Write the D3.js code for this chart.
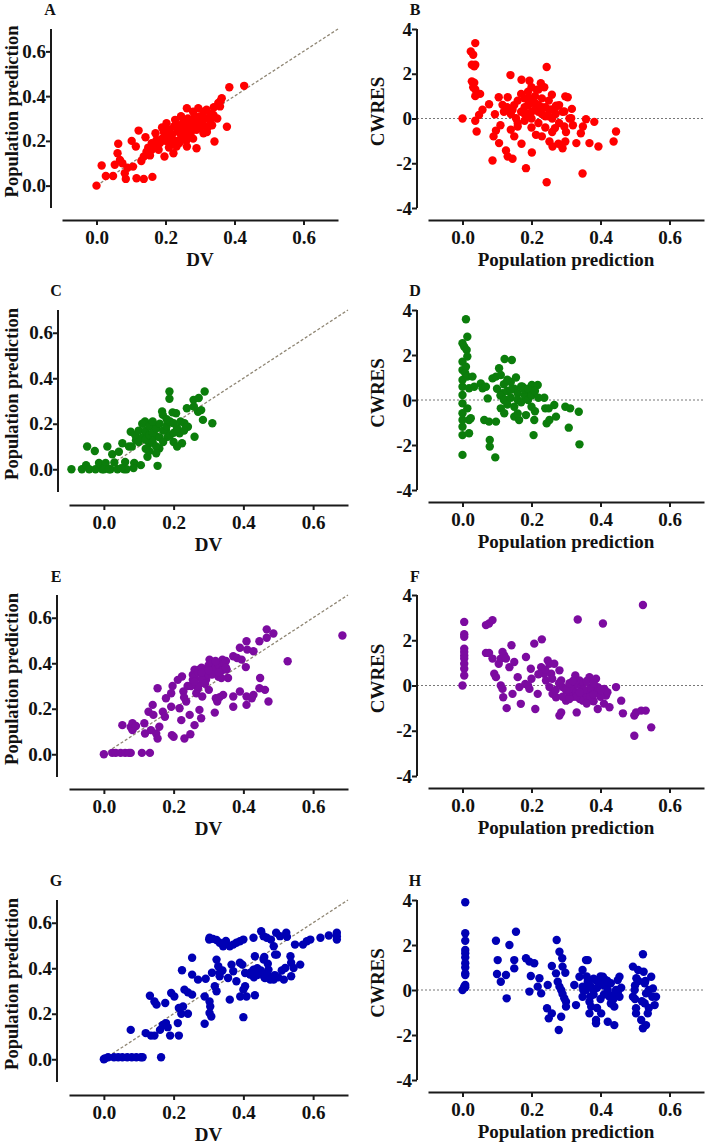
<!DOCTYPE html>
<html><head><meta charset="utf-8">
<script src="https://cdn.jsdelivr.net/npm/d3@7"></script>
<style>body{margin:0;background:#fff}svg{display:block}</style>
</head><body><svg id="c" width="705" height="1144"></svg>
<script>
// ---------- DATA ----------
const panelLabels = ["A","B","C","D","E","F","G","H"];
const xTicks = [0, 0.2, 0.4, 0.6];
const predTicks = [0, 0.2, 0.4, 0.6];
const cwresTicks = [-4, -2, 0, 2, 4];
const predDomain = [-0.1, 0.7];
const cwresDomain = [-4, 4];
const titleDV = "DV";
const titlePred = "Population prediction";
const titleCwres = "CWRES";

// [DV, PRED]
const dataA = [[0,0],[0.015,0.09],[0.027,0.043],[0.048,0.043],[0.063,0.187],[0.061,0.145],[0.053,0.093],[0.068,0.115],[0.082,0.055],[0.085,0.03],[0.075,0.1],[0.09,0.08],[0.102,0.2],[0.106,0.085],[0.114,0.175],[0.122,0.246],[0.116,0.033],[0.137,0.03],[0.162,0.039],[0.142,0.216],[0.137,0.13],[0.145,0.152],[0.13,0.11],[0.15,0.17],[0.155,0.135],[0.16,0.19],[0.171,0.234],[0.169,0.175],[0.174,0.204],[0.184,0.19],[0.197,0.13],[0.19,0.21],[0.195,0.24],[0.2,0.2],[0.203,0.279],[0.208,0.219],[0.21,0.25],[0.215,0.185],[0.22,0.23],[0.223,0.145],[0.225,0.265],[0.228,0.294],[0.23,0.2],[0.232,0.175],[0.235,0.245],[0.24,0.27],[0.242,0.234],[0.245,0.21],[0.25,0.26],[0.252,0.29],[0.255,0.225],[0.26,0.25],[0.262,0.346],[0.262,0.175],[0.265,0.3],[0.27,0.27],[0.272,0.23],[0.276,0.279],[0.28,0.25],[0.285,0.31],[0.29,0.167],[0.29,0.28],[0.295,0.346],[0.3,0.309],[0.3,0.26],[0.305,0.29],[0.31,0.234],[0.315,0.3],[0.319,0.339],[0.324,0.264],[0.33,0.29],[0.339,0.316],[0.342,0.197],[0.35,0.3],[0.353,0.369],[0.358,0.354],[0.363,0.391],[0.378,0.263],[0.385,0.44],[0.428,0.446],[0.28,0.33],[0.245,0.31],[0.21,0.17],[0.18,0.16],[0.19,0.26],[0.26,0.2],[0.32,0.24],[0.335,0.27],[0.36,0.38],[0.2,0.23],[0.22,0.2],[0.23,0.27],[0.25,0.24],[0.27,0.29],[0.29,0.25],[0.31,0.27],[0.33,0.32],[0.24,0.19],[0.18,0.2],[0.16,0.16],[0.28,0.21],[0.34,0.35],[0.31,0.33],[0.26,0.28]];
// [PRED, CWRES]
const dataB = [[0,0],[0.024,3.0],[0.037,3.37],[0.031,2.85],[0.027,2.4],[0.037,2.4],[0.034,2.33],[0.027,1.66],[0.034,1.6],[0.031,1.4],[0.037,1.3],[0.051,1.1],[0.037,1.0],[0.037,-0.1],[0.041,-0.58],[0.048,0.16],[0.058,0.39],[0.077,0.64],[0.094,0.19],[0.105,0.95],[0.09,-0.8],[0.097,-0.54],[0.106,-1.1],[0.087,-1.88],[0.126,-1.43],[0.131,-1.7],[0.145,-1.8],[0.139,1.94],[0.116,0.61],[0.131,0.95],[0.145,0.39],[0.155,0.01],[0.15,-0.8],[0.16,-0.36],[0.171,1.73],[0.171,-1.13],[0.184,-2.22],[0.194,1.69],[0.201,-1.52],[0.244,2.3],[0.244,-2.85],[0.259,1.06],[0.348,-2.46],[0.382,-0.15],[0.394,-1.25],[0.368,-1.1],[0.438,-1.03],[0.445,-0.58],[0.358,-0.03],[0.349,-0.36],[0.343,-0.66],[0.33,-1.1],[0.315,0.01],[0.317,0.43],[0.305,0.95],[0.298,0.99],[0.295,0.31],[0.295,-0.36],[0.298,-1.03],[0.29,-1.33],[0.278,-1.13],[0.261,-1.25],[0.252,-1.03],[0.271,0.57],[0.268,-0.43],[0.227,1.58],[0.237,1.4],[0.215,1.28],[0.194,0.91],[0.213,-0.73],[0.13,0.5],[0.14,0.2],[0.15,0.6],[0.16,0.8],[0.17,0.3],[0.17,1.1],[0.18,0.5],[0.18,-0.1],[0.19,0.2],[0.19,1.2],[0.2,0.7],[0.2,0.0],[0.21,0.4],[0.21,1.0],[0.22,-0.2],[0.22,0.6],[0.23,0.2],[0.23,0.9],[0.24,0.5],[0.24,-0.4],[0.25,0.1],[0.25,0.8],[0.26,0.4],[0.26,-0.6],[0.27,0.2],[0.28,0.6],[0.28,-0.2],[0.29,0.3],[0.3,-0.6],[0.31,0.0],[0.32,-0.3],[0.2,-0.4],[0.16,-0.2],[0.14,-0.5],[0.12,0.3],[0.11,-0.3],[0.22,1.3],[0.23,-0.8],[0.2,1.4],[0.18,0.9],[0.19,0.6],[0.21,0.7],[0.22,0.3],[0.24,0.1],[0.25,0.4],[0.27,0.5],[0.2,0.3],[0.18,0.2],[0.23,0.5],[0.26,0.0]];
const dataC = [[-0.093,0],[-0.063,0],[-0.051,0.018],[-0.048,0.1],[-0.026,0.08],[-0.042,0],[-0.024,0],[-0.014,0.028],[-0.005,0],[0.005,0.028],[0.01,0.1],[0.019,0],[0.024,0.066],[0.039,0],[0.043,0.077],[0.053,0.114],[0.061,0.032],[0.058,0],[0.077,0.165],[0.072,0.1],[0.087,0.028],[0.092,0.128],[0.106,0.018],[0.118,0.21],[0.12,0.16],[0.13,0.114],[0.125,0.055],[0.14,0.19],[0.154,0.015],[0.149,0.146],[0.159,0.091],[0.167,0.254],[0.169,0.239],[0.188,0.342],[0.188,0.31],[0.197,0.25],[0.207,0.246],[0.2,0.202],[0.178,0.173],[0.183,0.143],[0.217,0.158],[0.224,0.114],[0.231,0.202],[0.238,0.268],[0.241,0.187],[0.257,0.305],[0.26,0.143],[0.272,0.313],[0.279,0.26],[0.289,0.342],[0.27,0.253],[0.284,0.217],[0.311,0.202],[0.258,0.276],[0.09,0.15],[0.1,0.12],[0.1,0.17],[0.11,0.14],[0.11,0.2],[0.12,0.13],[0.12,0.17],[0.13,0.15],[0.13,0.19],[0.14,0.12],[0.14,0.16],[0.15,0.18],[0.15,0.1],[0.16,0.14],[0.16,0.2],[0.17,0.17],[0.17,0.12],[0.18,0.19],[0.19,0.15],[0.19,0.21],[0.2,0.16],[0.2,0.12],[0.21,0.18],[0.22,0.21],[0.21,0.1],[0.13,0.08],[0.15,0.07],[0.12,0.09],[0.08,0.1],[0.18,0.22],[0.14,0.21],[0.23,0.17],[0.03,0.03],[0.0,0.0],[0.065,0.0],[0.085,0.005],[0.05,0.005],[0.015,0.0]];
const dataD = [[0,-2.44],[0,-1.56],[0,-1.19],[0,-0.89],[0,-0.59],[0,-0.15],[0,0.22],[0,0.59],[0,0.89],[0,1.33],[0,1.7],[0,2.52],[0.005,2.37],[0.01,3.59],[0.014,2.81],[0.012,2.22],[0.014,1.93],[0.01,1.48],[0.008,1.19],[0.014,1.04],[0.019,0.52],[0.014,-0.37],[0.019,-0.89],[0.024,-0.81],[0.019,-1.48],[0.029,1.04],[0.034,0.59],[0.053,0.74],[0.058,0.52],[0.068,0.59],[0.063,-0.89],[0.073,0.07],[0.077,-0.96],[0.079,-1.78],[0.079,-2.07],[0.095,-2.55],[0.097,-0.96],[0.087,0.96],[0.097,1.04],[0.106,1.41],[0.111,1.11],[0.122,1.82],[0.143,1.78],[0.116,0.3],[0.111,-0.37],[0.121,-0.59],[0.126,0],[0.15,-0.74],[0.155,1.0],[0.164,-0.89],[0.174,0.59],[0.184,-0.67],[0.198,0.3],[0.206,-1.56],[0.208,-0.89],[0.201,0.67],[0.218,0.67],[0.237,0.1],[0.24,-0.37],[0.244,-1.04],[0.252,-0.89],[0.266,-0.22],[0.271,-0.74],[0.25,-0.37],[0.298,-0.3],[0.312,-0.37],[0.308,-1.23],[0.337,-0.52],[0.339,-1.97],[0.1,0.5],[0.11,0.2],[0.12,0.7],[0.12,0.0],[0.13,0.4],[0.13,-0.2],[0.14,0.8],[0.14,0.1],[0.15,0.5],[0.15,-0.3],[0.16,0.3],[0.16,0.0],[0.17,0.6],[0.17,-0.1],[0.18,0.2],[0.18,0.45],[0.19,0.0],[0.19,0.5],[0.2,-0.3],[0.2,0.2],[0.21,0.4],[0.21,-0.5],[0.22,0.1],[0.16,-0.6],[0.14,0.45],[0.13,0.9]];
const dataE = [[0,0],[0.024,0.006],[0.034,0.006],[0.048,0.006],[0.061,0.006],[0.077,0.006],[0.072,0.006],[0.109,0.006],[0.132,0.006],[0.053,0.128],[0.077,0.12],[0.082,0.106],[0.082,0.136],[0.092,0.124],[0.116,0.136],[0.118,0.091],[0.128,0.187],[0.14,0.217],[0.142,0.173],[0.135,0.106],[0.15,0.091],[0.154,0.069],[0.159,0.121],[0.154,0.29],[0.169,0.187],[0.175,0.165],[0.178,0.246],[0.193,0.268],[0.197,0.3],[0.195,0.084],[0.2,0.077],[0.193,0.209],[0.212,0.327],[0.217,0.202],[0.222,0.15],[0.224,0.342],[0.228,0.276],[0.231,0.069],[0.248,0.088],[0.246,0.173],[0.236,0.232],[0.255,0.35],[0.255,0.327],[0.26,0.372],[0.26,0.128],[0.265,0.268],[0.27,0.29],[0.273,0.372],[0.279,0.158],[0.282,0.254],[0.274,0.195],[0.285,0.357],[0.293,0.327],[0.298,0.379],[0.303,0.416],[0.301,0.283],[0.318,0.183],[0.321,0.246],[0.325,0.232],[0.332,0.401],[0.34,0.416],[0.328,0.342],[0.337,0.335],[0.352,0.372],[0.356,0.335],[0.342,0.261],[0.332,0.251],[0.371,0.431],[0.382,0.423],[0.371,0.254],[0.371,0.209],[0.39,0.468],[0.395,0.416],[0.39,0.276],[0.409,0.497],[0.411,0.46],[0.407,0.383],[0.429,0.453],[0.409,0.217],[0.409,0.254],[0.429,0.261],[0.424,0.246],[0.448,0.335],[0.446,0.497],[0.446,0.29],[0.462,0.283],[0.467,0.549],[0.467,0.512],[0.486,0.531],[0.472,0.232],[0.527,0.409],[0.684,0.522],[0.26,0.34],[0.27,0.36],[0.28,0.38],[0.28,0.33],[0.29,0.37],[0.3,0.39],[0.3,0.35],[0.31,0.4],[0.31,0.37],[0.32,0.38],[0.33,0.39],[0.34,0.37],[0.345,0.4],[0.35,0.41],[0.27,0.3],[0.29,0.31],[0.24,0.3],[0.23,0.25],[0.25,0.3],[0.26,0.32],[0.28,0.36],[0.31,0.35],[0.33,0.36],[0.3,0.37],[0.32,0.41],[0.35,0.38]];
const dataF = [[0,0],[0.005,2.81],[0.005,2.27],[0.005,2.15],[0.005,1.63],[0.005,1.48],[0.005,1.33],[0.005,1.19],[0.005,0.96],[0.005,0.74],[0.005,0.44],[0.068,2.67],[0.077,2.74],[0.087,2.89],[0.068,1.44],[0.077,1.44],[0.087,1.19],[0.092,0.52],[0.097,0.37],[0.111,1.19],[0.116,1.48],[0.121,1.33],[0.126,1.19],[0.105,0.96],[0.111,0],[0.118,-0.52],[0.116,-0.15],[0.128,-1.0],[0.142,1.78],[0.136,0.81],[0.15,1.04],[0.145,-0.37],[0.16,0.37],[0.165,-0.07],[0.169,-0.81],[0.182,0.07],[0.184,1.26],[0.194,-0.15],[0.198,0.74],[0.208,1.85],[0.211,-1.04],[0.23,2.04],[0.218,-0.37],[0.228,0.81],[0.237,0.52],[0.242,0.22],[0.247,1.11],[0.252,0.96],[0.257,0.52],[0.252,-0.07],[0.261,-0.37],[0.271,-0.52],[0.266,0.96],[0.281,0.67],[0.286,0.22],[0.29,-0.07],[0.281,-1.33],[0.286,-1.19],[0.3,-0.67],[0.31,-0.37],[0.319,-0.15],[0.327,0.44],[0.339,0.22],[0.334,0.07],[0.344,-0.07],[0.349,-0.37],[0.349,-0.67],[0.334,2.92],[0.331,-1.19],[0.358,-0.52],[0.368,0.37],[0.373,-0.22],[0.378,-0.67],[0.387,0.3],[0.392,-0.07],[0.392,-1.04],[0.407,2.74],[0.411,-0.15],[0.416,-0.44],[0.426,-0.96],[0.445,-0.07],[0.46,-0.67],[0.465,-1.23],[0.498,-1.33],[0.503,-1.19],[0.518,-1.11],[0.531,-1.11],[0.498,-2.22],[0.523,3.56],[0.547,-1.85],[0.3,-0.2],[0.31,0.1],[0.32,-0.5],[0.33,-0.3],[0.34,-0.6],[0.35,0.1],[0.36,-0.4],[0.37,-0.1],[0.38,-0.7],[0.39,-0.3],[0.4,-0.5],[0.41,-0.8],[0.42,-0.3],[0.36,0.2],[0.38,0.1],[0.26,0.3],[0.27,-0.2],[0.28,0.1],[0.29,-0.5],[0.32,0.2],[0.24,0.7],[0.22,0.5],[0.2,0.3],[0.19,0.0],[0.33,-0.5],[0.35,-0.2],[0.37,-0.5],[0.4,-0.2],[0.34,-0.3],[0.38,-0.4],[0.31,-0.6],[0.36,-0.8]];
const dataG = [[0,0],[0.003,0.004],[0.012,0.009],[0.029,0.009],[0.041,0.009],[0.053,0.009],[0.067,0.009],[0.08,0.009],[0.093,0.009],[0.106,0.009],[0.111,0.009],[0.077,0.129],[0.164,0.009],[0.12,0.115],[0.135,0.104],[0.145,0.104],[0.132,0.279],[0.145,0.254],[0.151,0.24],[0.161,0.129],[0.169,0.151],[0.178,0.159],[0.183,0.141],[0.176,0.247],[0.19,0.104],[0.215,0.104],[0.193,0.291],[0.202,0.276],[0.212,0.159],[0.215,0.225],[0.227,0.232],[0.222,0.2],[0.224,0.391],[0.241,0.2],[0.231,0.306],[0.241,0.294],[0.253,0.284],[0.253,0.372],[0.253,0.446],[0.27,0.35],[0.289,0.156],[0.292,0.354],[0.289,0.276],[0.302,0.526],[0.303,0.534],[0.313,0.529],[0.323,0.524],[0.332,0.512],[0.342,0.497],[0.303,0.254],[0.305,0.232],[0.303,0.203],[0.308,0.188],[0.318,0.321],[0.323,0.299],[0.323,0.438],[0.328,0.409],[0.332,0.379],[0.332,0.365],[0.361,0.497],[0.371,0.504],[0.38,0.512],[0.39,0.519],[0.4,0.526],[0.356,0.357],[0.366,0.416],[0.371,0.387],[0.361,0.262],[0.38,0.343],[0.39,0.424],[0.397,0.416],[0.391,0.276],[0.4,0.306],[0.405,0.321],[0.409,0.276],[0.433,0.281],[0.4,0.185],[0.405,0.379],[0.419,0.372],[0.429,0.394],[0.433,0.453],[0.429,0.534],[0.451,0.563],[0.458,0.541],[0.467,0.534],[0.479,0.526],[0.487,0.497],[0.458,0.438],[0.453,0.379],[0.462,0.357],[0.472,0.394],[0.477,0.35],[0.487,0.35],[0.491,0.46],[0.496,0.46],[0.494,0.556],[0.505,0.541],[0.523,0.556],[0.525,0.538],[0.516,0.35],[0.52,0.401],[0.535,0.453],[0.537,0.424],[0.537,0.365],[0.544,0.401],[0.548,0.504],[0.563,0.416],[0.571,0.504],[0.582,0.519],[0.592,0.526],[0.621,0.534],[0.645,0.544],[0.668,0.556],[0.668,0.541],[0.668,0.526],[0.44,0.4],[0.45,0.39],[0.47,0.37],[0.48,0.36],[0.46,0.36],[0.5,0.36],[0.35,0.52],[0.42,0.38],[0.43,0.36],[0.44,0.37],[0.49,0.37],[0.51,0.39],[0.47,0.42],[0.31,0.38],[0.34,0.39],[0.46,0.45]];
const dataH = [[0.008,3.9],[0.008,2.52],[0.008,2.19],[0.008,1.78],[0.008,1.63],[0.008,1.45],[0.008,1.19],[0.008,1.0],[0.008,0.74],[0.008,0.67],[0.008,0.22],[0.005,0.15],[0,0],[0.008,0.12],[0.097,2.19],[0.102,1.33],[0.1,0.71],[0.111,0.37],[0.126,0.67],[0.128,-0.37],[0.136,2.0],[0.155,2.59],[0.15,1.33],[0.15,0.96],[0.184,1.41],[0.194,1.26],[0.208,1.19],[0.198,0.62],[0.194,-0.07],[0.223,0.52],[0.218,0.15],[0.228,-0.15],[0.247,0.22],[0.245,-0.81],[0.25,-1.26],[0.259,-1.04],[0.259,1.07],[0.273,2.22],[0.281,1.7],[0.289,1.41],[0.29,1.04],[0.271,0.74],[0.276,0.37],[0.281,0.15],[0.286,0],[0.29,-0.18],[0.295,-0.37],[0.3,-0.52],[0.3,-0.74],[0.279,-1.78],[0.286,-1.19],[0.298,0.77],[0.324,0.22],[0.329,-0.67],[0.339,0.59],[0.348,0.89],[0.358,1.33],[0.363,1.33],[0.348,0.15],[0.348,-0.3],[0.358,0],[0.363,0.37],[0.368,-0.52],[0.368,-1.04],[0.373,-0.74],[0.387,-1.33],[0.387,-1.48],[0.402,-1.04],[0.387,0.44],[0.397,0.3],[0.407,0.59],[0.416,0.44],[0.421,0],[0.426,-0.3],[0.436,-0.44],[0.44,-0.74],[0.445,0],[0.45,0.44],[0.421,-1.41],[0.44,-1.56],[0.455,0.59],[0.455,-0.3],[0.494,1.04],[0.509,0.89],[0.504,0.52],[0.499,0],[0.494,-0.3],[0.503,-1.04],[0.503,-0.81],[0.523,1.59],[0.525,0.81],[0.528,0.3],[0.532,-0.15],[0.528,-0.59],[0.518,-1.33],[0.523,-1.7],[0.532,-1.56],[0.537,-1.04],[0.547,0.59],[0.552,0.07],[0.557,-0.67],[0.561,-0.3],[0.37,0.2],[0.38,-0.2],[0.39,0.1],[0.4,-0.4],[0.41,0.2],[0.42,-0.1],[0.43,0.3],[0.44,-0.2],[0.46,0.1],[0.38,0.5],[0.35,0.0],[0.4,0.6],[0.39,-0.8],[0.43,-0.6],[0.53,0.4],[0.54,0.0],[0.5,-0.4],[0.51,0.4],[0.55,-0.3],[0.36,0.6],[0.37,-0.3],[0.41,-0.2],[0.42,0.4],[0.45,-0.1],[0.38,0.0],[0.39,0.4],[0.52,-0.5],[0.54,-0.8],[0.5,0.2]];

const seriesColors = ["#ff0000", "#0b7d0b", "#7c0ba0", "#0000b4"];

// ---------- LAYOUT ----------
const FONT = "'Liberation Serif','Times New Roman',serif";
const rows = [
  {xa: 220, yTop: 29,  yBot: 208, labY: 15,  rxa: 220, ryTop: 29,  ryBot: 208, lx: [62, 338], lyx: 51},
  {xa: 505, yTop: 310, yBot: 492, labY: 296, rxa: 502, ryTop: 310, ryBot: 490, lx: [69, 348], lyx: 58},
  {xa: 789, yTop: 595, yBot: 777, labY: 582, rxa: 788, ryTop: 595, ryBot: 776, lx: [69, 348], lyx: 57},
  {xa: 1095,yTop: 900, yBot: 1082,labY: 886, rxa: 1092,ryTop: 900, ryBot: 1080,lx: [69, 348], lyx: 57}
];
const leftData = [dataA, dataC, dataE, dataG];
const rightData = [dataB, dataD, dataF, dataH];

const svg = d3.select("#c");

function styleAxis(g) {
  g.select(".domain").attr("stroke", "#1a1a1a").attr("stroke-width", 2);
  g.selectAll(".tick line").attr("stroke", "#1a1a1a").attr("stroke-width", 2);
  g.selectAll(".tick text").attr("fill", "#111").attr("font-family", FONT)
    .attr("font-weight", "bold").attr("font-size", 19);
}

function drawPanel(cfg) {
  const g = svg.append("g");
  const x = d3.scaleLinear().domain(predDomain).range(cfg.xRange);
  const y = d3.scaleLinear().domain(cfg.yDomain).range([cfg.yBot, cfg.yTop]);

  if (cfg.kind === "pred") {
    g.append("line")
      .attr("x1", x(0)).attr("y1", y(0)).attr("x2", x(0.7)).attr("y2", y(0.7))
      .attr("stroke", "#8f8674").attr("stroke-width", 1.3).attr("stroke-dasharray", "3,2");
  } else {
    g.append("line")
      .attr("x1", cfg.yAxisX).attr("y1", y(0)).attr("x2", x(0.7)).attr("y2", y(0))
      .attr("stroke", "#777").attr("stroke-width", 1).attr("stroke-dasharray", "2,2");
  }

  const fmt = cfg.kind === "pred" ? (d => d.toFixed(1)) : (d => String(d));
  const ya = g.append("g").attr("transform", `translate(${cfg.yAxisX},0)`)
    .call(d3.axisLeft(y).tickValues(cfg.yTicks).tickFormat(fmt).tickSize(5).tickSizeOuter(0).tickPadding(0));
  ya.select(".domain").attr("d", `M0,${cfg.yBot}V${cfg.yTop}`);
  styleAxis(ya);

  const xa = g.append("g").attr("transform", `translate(0,${cfg.xAxisY})`)
    .call(d3.axisBottom(x).tickValues(xTicks).tickFormat(d => d.toFixed(1)).tickSize(5).tickSizeOuter(0).tickPadding(6));
  styleAxis(xa);

  g.append("g").selectAll("circle").data(cfg.data).join("circle")
    .attr("cx", d => x(d[0])).attr("cy", d => y(d[1])).attr("r", 4.2)
    .attr("fill", cfg.color);

  g.append("text").attr("x", (cfg.xRange[0] + cfg.xRange[1]) / 2).attr("y", cfg.xAxisY + 46)
    .attr("text-anchor", "middle").attr("font-family", FONT).attr("font-weight", "bold")
    .attr("font-size", 19).attr("fill", "#111").text(cfg.xTitle);

  const cy = (cfg.yTop + cfg.yBot) / 2 - 7;
  g.append("text").attr("transform", `translate(${cfg.yTitleX},${cy}) rotate(-90)`)
    .attr("text-anchor", "middle").attr("font-family", FONT).attr("font-weight", "bold")
    .attr("font-size", cfg.yTitleSize).attr("fill", "#111").text(cfg.yTitle);

  g.append("text").attr("x", cfg.labX).attr("y", cfg.labY).attr("text-anchor", "middle")
    .attr("font-family", FONT).attr("font-weight", "bold").attr("font-size", 16)
    .attr("fill", "#111").text(cfg.label);
}

rows.forEach((r, i) => {
  drawPanel({
    kind: "pred", data: leftData[i], color: seriesColors[i], label: panelLabels[2 * i],
    xRange: r.lx, yAxisX: r.lyx, yTop: r.yTop, yBot: r.yBot, xAxisY: r.xa,
    yDomain: predDomain, yTicks: predTicks, xTitle: titleDV, yTitle: titlePred, yTitleSize: 18.5,
    yTitleX: 17.5, labX: i === 0 ? 50 : 56, labY: r.labY
  });
  drawPanel({
    kind: "cwres", data: rightData[i], color: seriesColors[i], label: panelLabels[2 * i + 1],
    xRange: [428, 704], yAxisX: 417, yTop: r.ryTop, yBot: r.ryBot, xAxisY: r.rxa,
    yDomain: cwresDomain, yTicks: cwresTicks, xTitle: titlePred, yTitle: titleCwres, yTitleSize: 19,
    yTitleX: 384, labX: 415, labY: r.labY
  });
});
</script>
</body></html>
